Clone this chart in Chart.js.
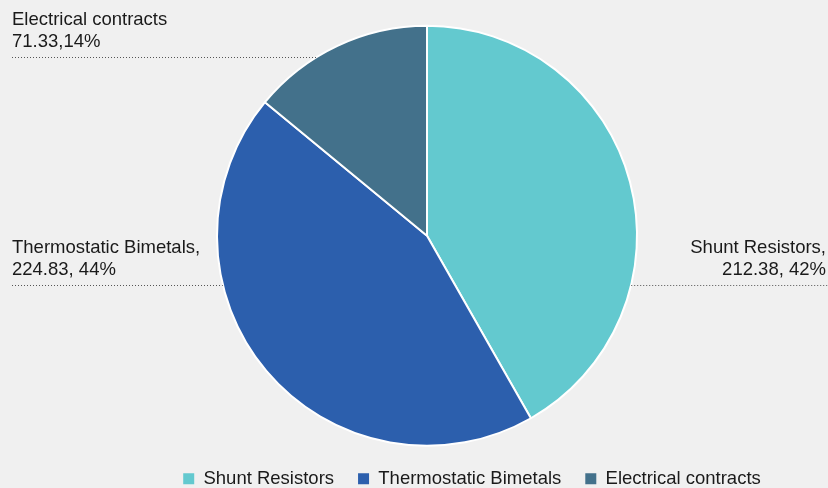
<!DOCTYPE html>
<html>
<head>
<meta charset="utf-8">
<script src="https://cdn.jsdelivr.net/npm/chart.js@4/dist/chart.umd.min.js"></script>
<style>
  html, body { margin: 0; padding: 0; background: #f0f0f0; }
  #wrap { width: 828px; height: 488px; }
</style>
</head>
<body>
<div id="wrap"><canvas id="pie" width="828" height="488"></canvas></div>
<script>
// data
const categories = ['Shunt Resistors', 'Thermostatic Bimetals', 'Electrical contracts'];
const values = [212.38, 224.83, 71.33];
const colors = ['#63c9cf', '#2c5fad', '#43718b'];
// callout text, as printed on the chart
const calloutLines = [
  ['Shunt Resistors,', '212.38, 42%'],
  ['Thermostatic Bimetals,', '224.83, 44%'],
  ['Electrical contracts', '71.33,14%']
];
const calloutSide = ['right', 'left', 'left'];
const calloutDy = [49, 49, -179]; // leader line, relative to pie centre

const FONT = '"Liberation Sans", Arial, sans-serif';
const LEGEND_SHIFT = 45; // legend sits right of the pie centre in the original

// draws the text + dotted leader lines next to the pie
const calloutPlugin = {
  id: 'callouts',
  afterLayout(chart) {
    chart.legend.left += LEGEND_SHIFT;
    chart.legend.right += LEGEND_SHIFT;
  },
  afterDatasetsDraw(chart) {
    const ctx = chart.ctx;
    const arc = chart.getDatasetMeta(0).data[0];
    const cx = arc.x, cy = arc.y, r = arc.outerRadius;
    ctx.save();
    ctx.font = '18.5px ' + FONT;
    ctx.fillStyle = '#1a1a1a';
    ctx.strokeStyle = '#555';
    ctx.lineWidth = 1;
    ctx.setLineDash([1, 2]);
    calloutLines.forEach((lines, i) => {
      const y = Math.round(cy + calloutDy[i]) + 0.5;
      const dx = Math.sqrt(r * r - calloutDy[i] * calloutDy[i]);
      ctx.beginPath();
      if (calloutSide[i] === 'left') {
        ctx.moveTo(12, y);
        ctx.lineTo(cx - dx, y);
        ctx.textAlign = 'left';
      } else {
        ctx.moveTo(cx + dx, y);
        ctx.lineTo(chart.width, y);
        ctx.textAlign = 'right';
      }
      ctx.stroke();
      const tx = calloutSide[i] === 'left' ? 12 : chart.width - 2;
      ctx.textBaseline = 'alphabetic';
      ctx.fillText(lines[0], tx, y - 11 - 22);
      ctx.fillText(lines[1], tx, y - 11);
    });
    ctx.restore();
  }
};

new Chart(document.getElementById('pie'), {
  type: 'pie',
  data: {
    labels: categories,
    datasets: [{
      data: values,
      backgroundColor: colors,
      borderColor: '#ffffff',
      borderWidth: 2,
      radius: 210
    }]
  },
  options: {
    responsive: false,
    animation: false,
    layout: { padding: { left: 26, right: 0, top: 26, bottom: -10 } },
    plugins: {
      tooltip: { enabled: false },
      legend: {
        position: 'bottom',
        labels: {
          boxWidth: 11,
          boxHeight: 11,
          padding: 24,
          color: '#1a1a1a',
          font: { size: 18.5, family: FONT },
          generateLabels(chart) {
            const items = Chart.overrides.pie.plugins.legend.labels.generateLabels(chart);
            items.forEach(it => { it.lineWidth = 0; it.strokeStyle = it.fillStyle; });
            return items;
          }
        }
      }
    }
  },
  plugins: [calloutPlugin]
});
</script>
</body>
</html>
